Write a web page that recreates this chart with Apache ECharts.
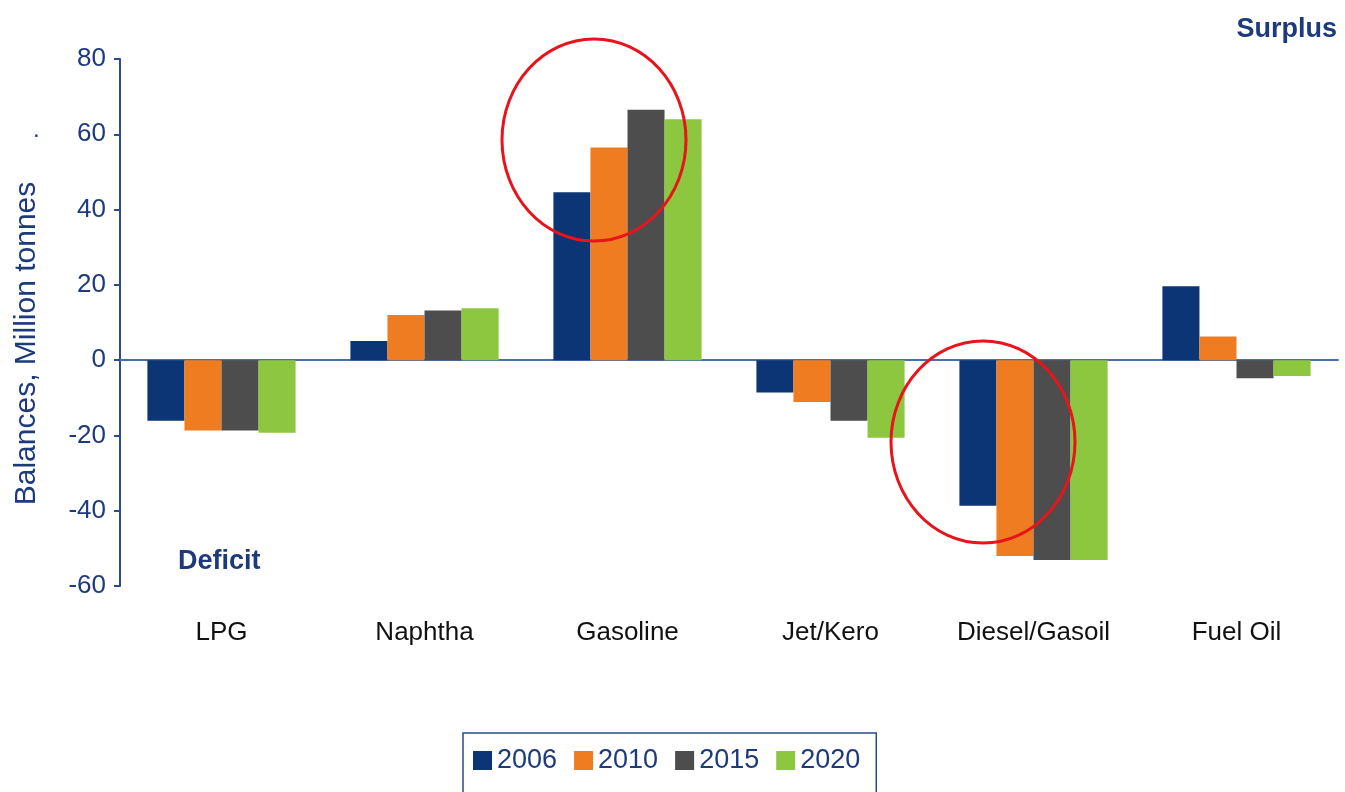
<!DOCTYPE html>
<html>
<head>
<meta charset="utf-8">
<title>Product balances</title>
<script src="https://cdn.jsdelivr.net/npm/echarts@6/dist/echarts.min.js"></script>
<style>
  html, body { margin: 0; padding: 0; background: #fff; }
  #chart { width: 1345px; height: 792px; }
</style>
</head>
<body>
<div id="chart"></div>
<script>
// data
var categories = ['LPG', 'Naphtha', 'Gasoline', 'Jet/Kero', 'Diesel/Gasoil', 'Fuel Oil'];
var years = ['2006', '2010', '2015', '2020'];
var y2006 = [-16.1, 5.1, 44.6, -8.6, -38.7, 19.6];
var y2010 = [-18.7, 12.0, 56.5, -11.1, -52.0, 6.3];
var y2015 = [-18.7, 13.2, 66.5, -16.1, -53.1, -4.8];
var y2020 = [-19.3, 13.8, 64.0, -20.6, -53.1, -4.2];
var yTicks = [-60, -40, -20, 0, 20, 40, 60, 80];

var colors = ['#0b3574', '#f07c21', '#4d4d4d', '#8dc63f'];
var textBlue = '#1c3a7c';
var font = '"Liberation Sans", Arial, sans-serif';

var chart = echarts.init(document.getElementById('chart'));

var seriesData = [y2006, y2010, y2015, y2020];
var series = [];
for (var i = 0; i < years.length; i++) {
    series.push({
        name: years[i],
        type: 'bar',
        xAxisIndex: 0,
        barGap: 0,
        barCategoryGap: '27%',
        itemStyle: { color: colors[i] },
        data: seriesData[i]
    });
}

var option = {
    animation: false,
    textStyle: { fontFamily: font },
    color: colors,
    grid: { left: 120, right: 7, top: 59, bottom: 206, containLabel: false },
    legend: {
        data: years,
        left: 463,
        top: 733,
        padding: [14, 16, 30, 10],
        itemWidth: 19,
        itemHeight: 19,
        itemGap: 17,
        icon: 'rect',
        borderColor: '#2a4b8d',
        borderWidth: 1.5,
        textStyle: { color: textBlue, fontSize: 27, fontFamily: font }
    },
    xAxis: [
        {
            type: 'category',
            data: categories,
            position: 'bottom',
            axisLine: { show: false, onZero: false },
            axisTick: { show: false },
            axisLabel: { color: '#111', fontSize: 26, margin: 34, fontFamily: font },
            splitLine: { show: false }
        },
        {
            // zero line only
            type: 'category',
            data: categories,
            axisLine: { show: true, onZero: true, lineStyle: { color: '#4a6ea8', width: 2 } },
            axisTick: { show: false },
            axisLabel: { show: false },
            splitLine: { show: false }
        }
    ],
    yAxis: {
        type: 'value',
        min: yTicks[0],
        max: yTicks[yTicks.length - 1],
        interval: 20,
        name: 'Balances, Million tonnes',
        nameLocation: 'middle',
        nameGap: 78,
        nameTextStyle: { color: textBlue, fontSize: 30, fontFamily: font, padding: [0, 42, 0, 0] },
        axisLine: { show: true, lineStyle: { color: '#2a4b8d', width: 2 } },
        axisTick: { show: true, length: 6, lineStyle: { color: '#2a4b8d', width: 2 } },
        axisLabel: { color: textBlue, fontSize: 26, margin: 14, fontFamily: font },
        splitLine: { show: false }
    },
    graphic: [
        {
            type: 'text', right: 8, top: 16,
            style: { text: 'Surplus', fill: textBlue, font: 'bold 27px ' + font }
        },
        {
            type: 'text', left: 178, top: 548,
            style: { text: 'Deficit', fill: textBlue, font: 'bold 27px ' + font }
        },
        {
            type: 'text', left: 33, top: 118,
            style: { text: '.', fill: textBlue, font: '24px ' + font }
        },
        // red annotation rings
        {
            type: 'ellipse', z: 100,
            shape: { cx: 594, cy: 140, rx: 92, ry: 101 },
            style: { fill: null, stroke: '#e8141b', lineWidth: 3 }
        },
        {
            type: 'ellipse', z: 100,
            shape: { cx: 983, cy: 442, rx: 92, ry: 101 },
            style: { fill: null, stroke: '#e8141b', lineWidth: 3 }
        }
    ],
    series: series
};

chart.setOption(option);
</script>
</body>
</html>
